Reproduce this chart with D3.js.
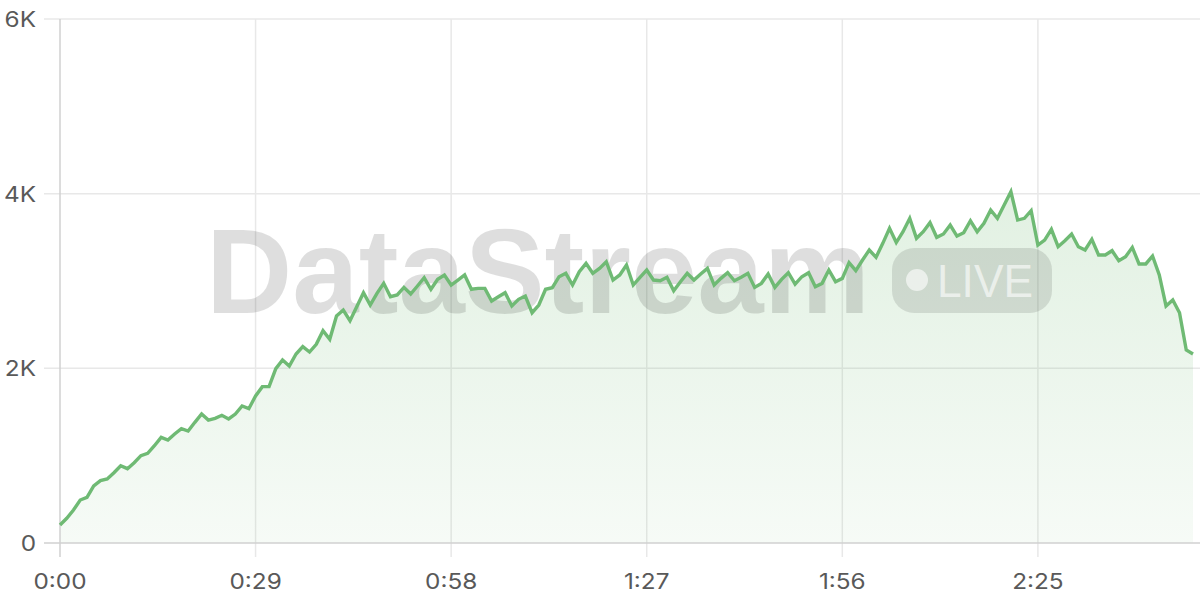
<!DOCTYPE html>
<html>
<head>
<meta charset="utf-8">
<script src="https://cdn.jsdelivr.net/npm/d3@7"></script>
<style>
html,body{margin:0;padding:0;background:#fff;}
svg{display:block;}
</style>
</head>
<body>
<svg id="chart" width="1200" height="600"></svg>
<script>
// seconds elapsed (one sample per second)
const values = [
  206, 283, 378, 492, 523, 653, 714, 733, 805, 885,
  851, 920, 1000, 1027, 1114, 1210, 1179, 1248, 1309, 1282,
  1382, 1477, 1408, 1427, 1462, 1420, 1477, 1569, 1538, 1683,
  1790, 1790, 1996, 2095, 2027, 2164, 2248, 2187, 2275, 2431,
  2332, 2600, 2668, 2546, 2706, 2866, 2725, 2859, 2973, 2820,
  2840, 2927, 2851, 2943, 3038, 2905, 3019, 3069, 2954, 3011,
  3069, 2905, 2916, 2916, 2771, 2820, 2866, 2714, 2790, 2828,
  2637, 2725, 2905, 2923, 3049, 3088, 2954, 3106, 3202, 3088,
  3145, 3221, 3011, 3069, 3183, 2954, 3042, 3126, 3011, 3003,
  3042, 2889, 2992, 3088, 3011, 3080, 3145, 2954, 3030, 3095,
  3003, 3042, 3088, 2927, 2973, 3080, 2927, 3019, 3095, 2965,
  3049, 3095, 2935, 2973, 3126, 2992, 3030, 3210, 3118, 3240,
  3355, 3271, 3431, 3603, 3440, 3564, 3718, 3489, 3564, 3668,
  3500, 3538, 3641, 3515, 3553, 3690, 3564, 3660, 3813, 3718,
  3870, 4022, 3698, 3718, 3805, 3412, 3469, 3592, 3393, 3462,
  3538, 3393, 3355, 3477, 3298, 3298, 3347, 3232, 3278, 3385,
  3195, 3195, 3286, 3069, 2714, 2782, 2637, 2210, 2164
];
const seconds = values.map((v, i) => i);
const xTicks = [0, 29, 58, 87, 116, 145];
const xTickLabels = ["0:00", "0:29", "0:58", "1:27", "1:56", "2:25"];
const yTicks = [0, 2000, 4000, 6000];
const yTickLabels = ["0", "2K", "4K", "6K"];
const watermarkText = "DataStream";
const badgeText = "LIVE";

const svg = d3.select("#chart");
const mLeft = 60, mRight = 1200, mTop = 19, mBottom = 543;

const x = d3.scaleLinear().domain([0, 168]).range([mLeft, 1193]);
const y = d3.scaleLinear().domain([0, 6000]).range([mBottom, mTop]);

const defs = svg.append("defs");
const grad = defs.append("linearGradient")
  .attr("id", "areaGrad")
  .attr("gradientUnits", "userSpaceOnUse")
  .attr("x1", 0).attr("x2", 0).attr("y1", y(4000)).attr("y2", mBottom);
grad.append("stop").attr("offset", "0%").attr("stop-color", "#6cb86f").attr("stop-opacity", 0.2);
grad.append("stop").attr("offset", "100%").attr("stop-color", "#6cb86f").attr("stop-opacity", 0.06);

// gridlines
const grid = svg.append("g");
grid.selectAll("line.h").data(yTicks.slice(1)).join("line")
  .attr("x1", 44).attr("x2", mRight)
  .attr("y1", d => y(d)).attr("y2", d => y(d))
  .attr("stroke", "#e8e8e8").attr("stroke-width", 1.5);
grid.selectAll("line.v").data(xTicks.slice(1)).join("line")
  .attr("x1", d => x(d)).attr("x2", d => x(d))
  .attr("y1", mTop).attr("y2", 557)
  .attr("stroke", "#e8e8e8").attr("stroke-width", 1.5);

// area
const area = d3.area().x((d, i) => x(seconds[i])).y0(mBottom).y1(d => y(d));
svg.append("path").datum(values).attr("d", area).attr("fill", "url(#areaGrad)");

// axes lines
svg.append("line").attr("x1", 44).attr("x2", mRight).attr("y1", mBottom).attr("y2", mBottom)
  .attr("stroke", "#d0d0d0").attr("stroke-width", 1.5);
svg.append("line").attr("x1", mLeft).attr("x2", mLeft).attr("y1", mTop).attr("y2", 557)
  .attr("stroke", "#d0d0d0").attr("stroke-width", 1.5);

// watermark
const wm = svg.append("g");
wm.append("text").text(watermarkText)
  .attr("x", 206).attr("y", 313)
  .attr("font-family", "'Liberation Sans', Arial, sans-serif")
  .attr("font-weight", "bold").attr("font-size", 120)
  .attr("textLength", 664).attr("lengthAdjust", "spacingAndGlyphs")
  .attr("fill", "rgba(0,0,0,0.13)");
wm.append("rect").attr("x", 892).attr("y", 248).attr("width", 160).attr("height", 65)
  .attr("rx", 22).attr("fill", "rgba(0,0,0,0.11)");
wm.append("circle").attr("cx", 917).attr("cy", 280).attr("r", 11)
  .attr("fill", "rgba(255,255,255,0.6)");
wm.append("text").text(badgeText)
  .attr("x", 937).attr("y", 297)
  .attr("font-family", "'Liberation Sans', Arial, sans-serif")
  .attr("font-size", 47)
  .attr("textLength", 96).attr("lengthAdjust", "spacingAndGlyphs")
  .attr("fill", "rgba(255,255,255,0.6)");

// line
const line = d3.line().x((d, i) => x(seconds[i])).y(d => y(d));
svg.append("path").datum(values).attr("d", line)
  .attr("fill", "none").attr("stroke", "#6fba74").attr("stroke-width", 3.4)
  .attr("stroke-linejoin", "miter").attr("stroke-linecap", "butt");

// tick labels (slightly widened glyphs to match reference)
const labelFont = "Inter, 'Open Sans', 'Liberation Sans', sans-serif";
const sx = 1.16;
svg.append("g").selectAll("text").data(yTicks).join("text")
  .attr("transform", d => `translate(36,${y(d) + 8}) scale(${sx},1)`)
  .attr("text-anchor", "end")
  .attr("font-family", labelFont).attr("font-size", 21)
  .attr("fill", "#595959")
  .text((d, i) => yTickLabels[i]);
svg.append("g").selectAll("text").data(xTicks).join("text")
  .attr("transform", d => `translate(${x(d)},589) scale(${sx},1)`)
  .attr("text-anchor", "middle")
  .attr("font-family", labelFont).attr("font-size", 21)
  .attr("fill", "#595959")
  .text((d, i) => xTickLabels[i]);
</script>
</body>
</html>
